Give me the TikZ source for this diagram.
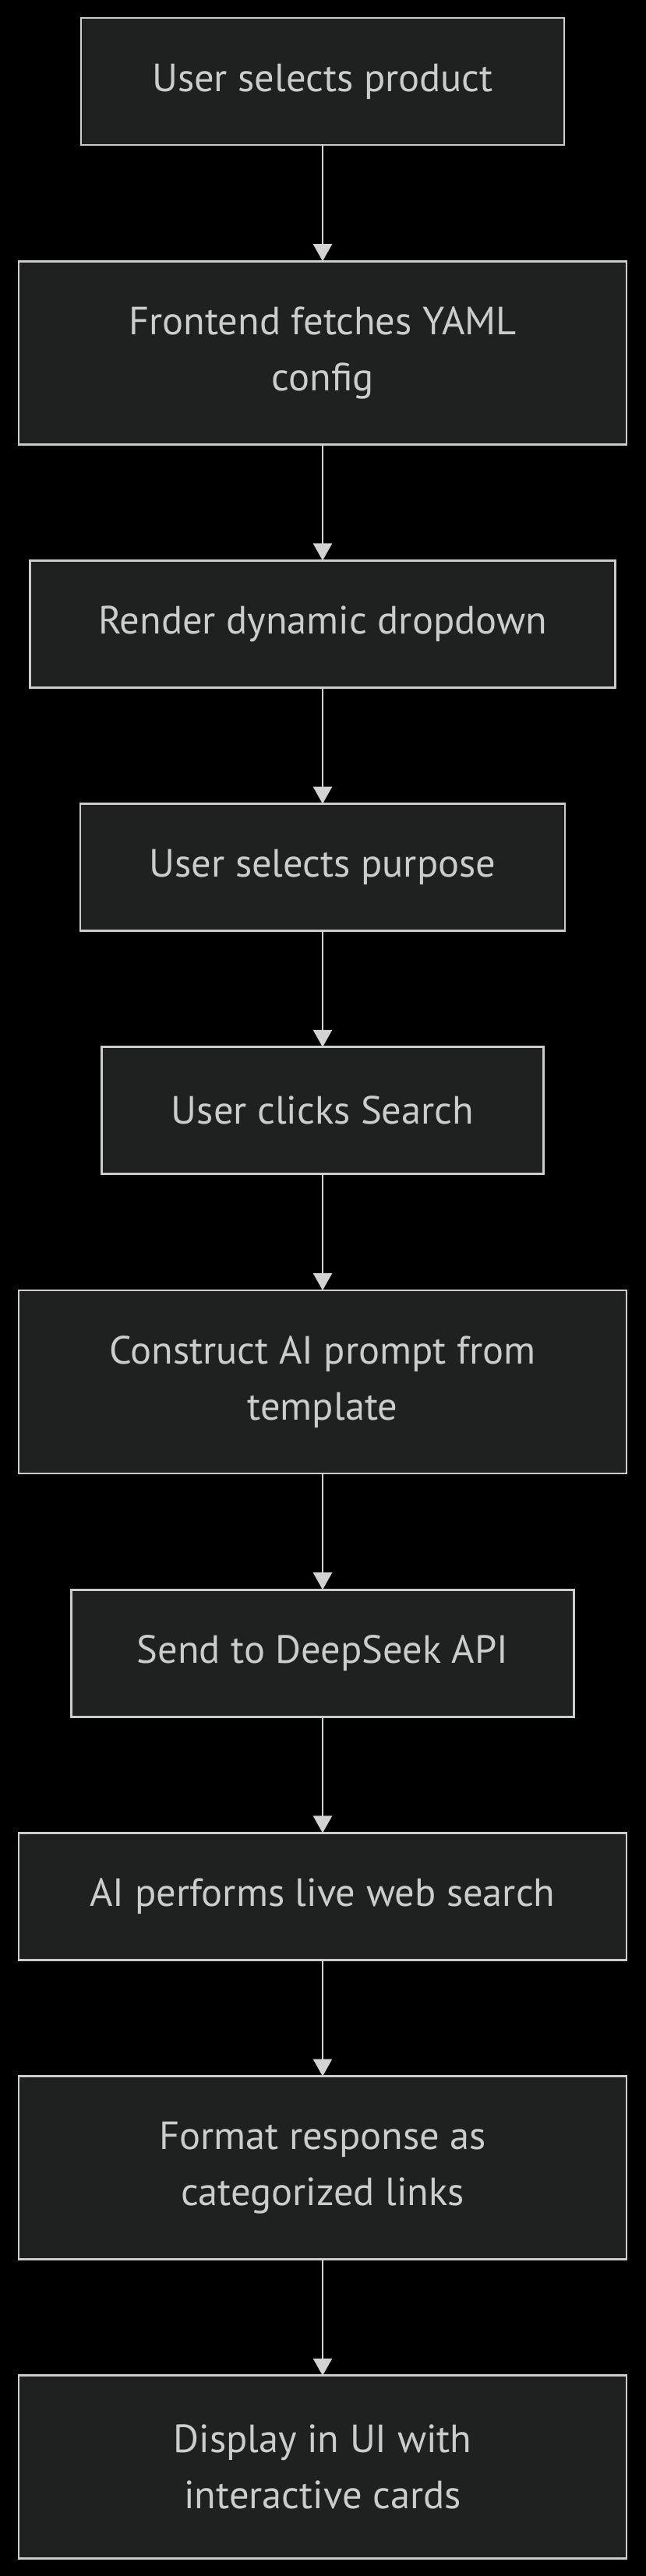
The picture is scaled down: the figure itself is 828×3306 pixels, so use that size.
\documentclass[tikz,border=0pt]{standalone}
\usepackage{fontspec}
\setmainfont{PT Sans}
\usetikzlibrary{arrows.meta}
\definecolor{bgc}{HTML}{000000}
\definecolor{boxfill}{HTML}{1F2020}
\definecolor{boxline}{HTML}{CCCCCC}
\definecolor{txt}{HTML}{CCCCCC}
\definecolor{edgec}{HTML}{D3D3D3}
\tikzset{
  flowbox/.style={rectangle, draw=boxline, fill=boxfill, line width=2.8pt,
    inner sep=0pt, outer sep=0pt, text=txt, align=center,
    font=\fontsize{50.5}{72}\selectfont},
  single/.style={minimum height=163pt},
  double/.style={minimum height=235pt},
  flowedge/.style={draw=edgec, line width=2.6pt,
    -{Triangle[width=24pt,length=22pt]}}
}
\begin{document}
\begin{tikzpicture}[x=1pt,y=-1pt]
\useasboundingbox (0,0) rectangle (828,3306);
\fill[bgc] (-5,-5) rectangle (833,3311);
\node[flowbox,single,minimum width=620pt] (n1) at (414,104.5) {User selects product};
\node[flowbox,double,minimum width=780pt] (n2) at (414,452.7) {Frontend fetches YAML\\config};
\node[flowbox,single,minimum width=751pt] (n3) at (414,800.9) {Render dynamic dropdown};
\node[flowbox,single,minimum width=622pt] (n4) at (414,1113.1) {User selects purpose};
\node[flowbox,single,minimum width=567pt] (n5) at (414,1425.3) {User clicks Search};
\node[flowbox,double,minimum width=780pt] (n6) at (414,1773.5) {Construct AI prompt from\\template};
\node[flowbox,single,minimum width=645pt] (n7) at (414,2121.7) {Send to DeepSeek API};
\node[flowbox,single,minimum width=780pt] (n8) at (414,2433.9) {AI performs live web search};
\node[flowbox,double,minimum width=780pt] (n9) at (414,2782.1) {Format response as\\categorized links};
\node[flowbox,double,minimum width=780pt] (n10) at (414,3166.3) {Display in UI with\\interactive cards};
\draw[flowedge] (n1) -- (n2);
\draw[flowedge] (n2) -- (n3);
\draw[flowedge] (n3) -- (n4);
\draw[flowedge] (n4) -- (n5);
\draw[flowedge] (n5) -- (n6);
\draw[flowedge] (n6) -- (n7);
\draw[flowedge] (n7) -- (n8);
\draw[flowedge] (n8) -- (n9);
\draw[flowedge] (n9) -- (n10);
\end{tikzpicture}
\end{document}
